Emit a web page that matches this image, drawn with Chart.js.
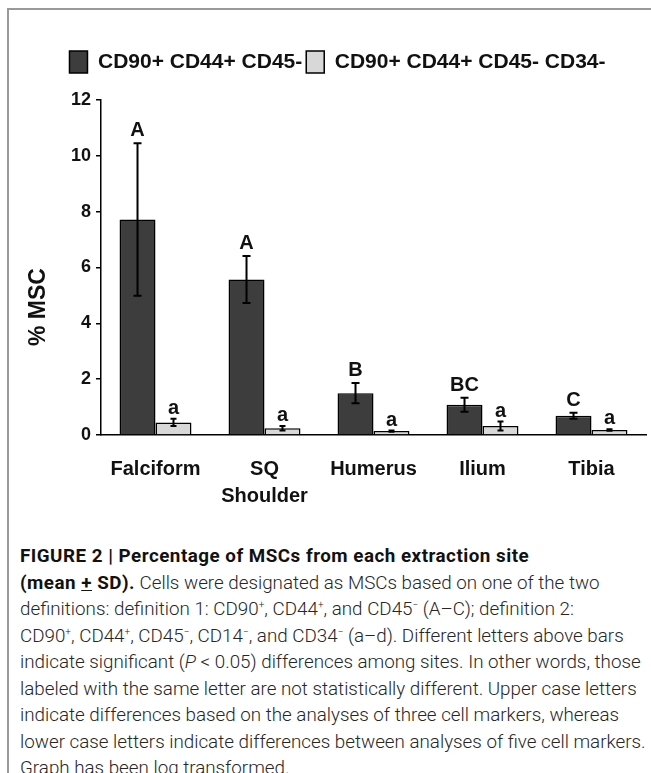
<!DOCTYPE html>
<html>
<head>
<meta charset="utf-8">
<script src="https://cdn.jsdelivr.net/npm/chart.js@4/dist/chart.umd.min.js"></script>
<style>
  html, body { margin: 0; padding: 0; background: #fff; }
  body { width: 651px; height: 773px; position: relative; overflow: hidden; }
  .frame { position: absolute; left: 7px; top: 8px; right: -5px; bottom: -5px;
    border-top: 2px solid #9a9a9a; border-left: 2px solid #9a9a9a; }
  .chart-box { position: absolute; left: 0; top: 0; width: 651px; height: 540px; }
  .caption { position: absolute; left: 20px; top: 543px; width: 631px;
    font-family: Roboto, "Liberation Sans", sans-serif; font-size: 18.8px; font-weight: 300;
    color: #262626; line-height: 26.5px; }
  .caption div { white-space: nowrap; }
  .caption b { font-weight: 700; color: #111; letter-spacing: 0.5px; }
  .caption sup { font-size: 10px; vertical-align: 7px; line-height: 0; }
  .pm { text-decoration: underline; }
</style>
</head>
<body>
<div class="frame"></div>
<div class="chart-box"><canvas id="chart-msc" width="651" height="540"></canvas></div>
<div class="caption">
  <div><b>FIGURE 2 | Percentage of MSCs from each extraction site</b></div>
  <div><b>(mean <span class="pm">+</span> SD).</b> Cells were designated as MSCs based on one of the two</div>
  <div>definitions: definition 1: CD90<sup>+</sup>, CD44<sup>+</sup>, and CD45<sup>−</sup> (A–C); definition 2:</div>
  <div>CD90<sup>+</sup>, CD44<sup>+</sup>, CD45<sup>−</sup>, CD14<sup>−</sup>, and CD34<sup>−</sup> (a–d). Different letters above bars</div>
  <div>indicate significant (<i>P</i> &lt; 0.05) differences among sites. In other words, those</div>
  <div>labeled with the same letter are not statistically different. Upper case letters</div>
  <div>indicate differences based on the analyses of three cell markers, whereas</div>
  <div>lower case letters indicate differences between analyses of five cell markers.</div>
  <div>Graph has been log transformed.</div>
</div>
<script>
const sites = ['Falciform', ['SQ', 'Shoulder'], 'Humerus', 'Ilium', 'Tibia'];
const seriesNames = ['CD90+ CD44+ CD45-', 'CD90+ CD44+ CD45- CD34-'];

const def1Mean = [7.72, 5.57, 1.50, 1.08, 0.69];
const def1Sd = [2.73, 0.84, 0.36, 0.25, 0.11];
const def2Mean = [0.45, 0.24, 0.14, 0.32, 0.18];
const def2Sd = [0.13, 0.08, 0.02, 0.16, 0.03];

const def1Letters = ['A', 'A', 'B', 'BC', 'C'];
const def2Letters = ['a', 'a', 'a', 'a', 'a'];

const yTicks = [0, 2, 4, 6, 8, 10, 12];

const sdList = [def1Sd, def2Sd];
const letterList = [def1Letters, def2Letters];

const fontFam = '"Liberation Sans", Arial, sans-serif';

// error bars + letters on top of each bar
const errorBars = {
  id: 'errorBars',
  afterDatasetsDraw(chart) {
    const ctx = chart.ctx;
    const y = chart.scales.y;
    chart.data.datasets.forEach((ds, i) => {
      const meta = chart.getDatasetMeta(i);
      const cap = i === 0 ? 4 : 3;
      meta.data.forEach((bar, j) => {
        const v = ds.data[j];
        const sd = sdList[i][j];
        const top = y.getPixelForValue(v + sd);
        const bot = y.getPixelForValue(v - sd);
        ctx.save();
        ctx.strokeStyle = '#000';
        ctx.lineWidth = 2;
        ctx.beginPath();
        ctx.moveTo(bar.x, top);
        ctx.lineTo(bar.x, bot);
        ctx.moveTo(bar.x - cap, top);
        ctx.lineTo(bar.x + cap, top);
        ctx.moveTo(bar.x - cap, bot);
        ctx.lineTo(bar.x + cap, bot);
        ctx.stroke();

        ctx.fillStyle = '#111';
        ctx.font = 'bold 20px ' + fontFam;
        ctx.textAlign = 'center';
        ctx.textBaseline = 'alphabetic';
        ctx.fillText(letterList[i][j], bar.x, top - (i === 0 ? 7 : 5));
        ctx.restore();
      });
    });
  }
};

// y title sits a bit below the axis middle in the original
const yTitle = {
  id: 'yTitle',
  afterDraw(chart) {
    const ctx = chart.ctx;
    ctx.save();
    ctx.translate(39, 307);
    ctx.rotate(-Math.PI / 2);
    ctx.fillStyle = '#111';
    ctx.font = 'bold 23px ' + fontFam;
    ctx.textAlign = 'center';
    ctx.textBaseline = 'middle';
    ctx.fillText('% MSC', 0, 0);
    ctx.restore();
  }
};

const ctx = document.getElementById('chart-msc').getContext('2d');

const chart = new Chart(ctx, {
  type: 'bar',
  data: {
    labels: sites,
    datasets: [
      {
        label: seriesNames[0],
        data: def1Mean,
        backgroundColor: '#3d3d3d',
        borderColor: '#000',
        borderWidth: 1.5,
        categoryPercentage: 0.66,
        barPercentage: 1.0,
      },
      {
        label: seriesNames[1],
        data: def2Mean,
        backgroundColor: '#d8d8d8',
        borderColor: '#000',
        borderWidth: 1.5,
        categoryPercentage: 0.66,
        barPercentage: 1.0,
      },
    ],
  },
  options: {
    responsive: false,
    animation: false,
    layout: { padding: { top: 47, left: 29, right: 5, bottom: 0 } },
    scales: {
      x: {
        grid: { display: false },
        border: { display: true, color: '#000', width: 1.5 },
        ticks: {
          color: '#111',
          padding: 13,
          maxRotation: 0,
          font: { family: fontFam, size: 20, weight: 'bold', lineHeight: 1.35 },
        },
        afterFit(scale) { scale.height = 105; },
      },
      y: {
        min: 0,
        max: 12,
        grid: { display: true, drawOnChartArea: false, drawTicks: true, tickLength: 5, color: '#000', lineWidth: 1.5 },
        border: { display: true, color: '#000', width: 1.5 },
        afterBuildTicks(scale) { scale.ticks = yTicks.map((v) => ({ value: v })); },
        ticks: {
          color: '#111',
          padding: 5,
          font: { family: fontFam, size: 18, weight: 'bold' },
        },
        afterFit(scale) { scale.width = 72; },
      },
    },
    plugins: {
      tooltip: { enabled: false },
      legend: {
        display: true,
        position: 'top',
        labels: {
          color: '#111',
          boxWidth: 18,
          boxHeight: 22,
          padding: 4,
          font: { family: fontFam, size: 21, weight: 'bold' },
        },
      },
    },
  },
  plugins: [errorBars, yTitle],
});

// extra gap under the legend, like the original
const legendFit = chart.legend.fit;
chart.legend.fit = function () {
  legendFit.call(this);
  this.height += 17;
};
chart.update();
</script>
</body>
</html>
